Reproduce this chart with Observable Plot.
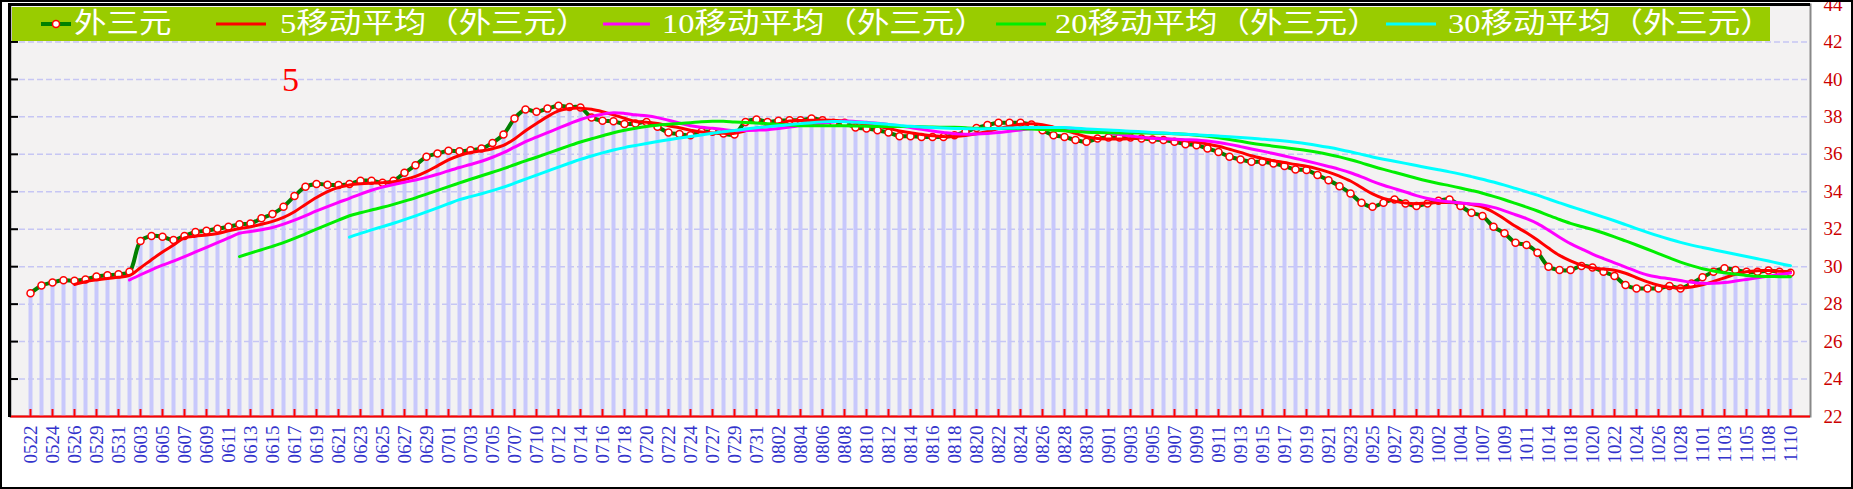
<!DOCTYPE html>
<html>
<head>
<meta charset="utf-8">
<script src="https://cdn.jsdelivr.net/npm/d3@7"></script>
<script src="https://cdn.jsdelivr.net/npm/@observablehq/plot@0.6"></script>
<style>
  body { margin: 0; background: #fff; }
  #wrap { position: relative; width: 1853px; height: 489px; overflow: hidden; background: #fff; }
  #chart { position: absolute; left: 0; top: 0; }
  #frame { position: absolute; left: 0; top: 0; width: 1853px; height: 489px; box-sizing: border-box; border: 2px solid #000; pointer-events: none; }
  .bline { position: absolute; background: #000; }
  #legend { position: absolute; left: 12px; top: 7px; width: 1758px; height: 34px; background: #99cc00; }
  .item { position: absolute; top: 0; height: 34px; line-height: 34px; color: #fff; white-space: nowrap;
          font-family: "Liberation Serif", "Noto Sans CJK SC", serif; font-size: 28px;
          transform: scaleX(1.16); transform-origin: 0 50%; }
  .sw { position: absolute; top: 0; }
</style>
</head>
<body>
<div id="wrap">
  <div id="chart"></div>
  <div class="bline" style="left:10px;top:3px;width:1800px;height:3px;"></div>
  <div class="bline" style="left:8px;top:3px;width:3px;height:414px;"></div>
  <div id="legend"></div>
  <div id="frame"></div>
</div>
<script>
// ---- data ----
const tickLabels = ["0522","0524","0526","0529","0531","0603","0605","0607","0609","0611","0613","0615","0617","0619","0621","0623","0625","0627","0629","0701","0703","0705","0707","0710","0712","0714","0716","0718","0720","0722","0724","0727","0729","0731","0802","0804","0806","0808","0810","0812","0814","0816","0818","0820","0822","0824","0826","0828","0830","0901","0903","0905","0907","0909","0911","0913","0915","0917","0919","0921","0923","0925","0927","0929","1002","1004","1007","1009","1011","1014","1018","1020","1022","1024","1026","1028","1101","1103","1105","1108","1110"];

const values = [
  28.58,28.99,29.16,29.27,29.25,29.32,29.47,29.54,29.59,29.73,
  31.37,31.64,31.60,31.42,31.64,31.85,31.92,32.03,32.13,32.26,
  32.31,32.58,32.81,33.20,33.77,34.27,34.42,34.37,34.36,34.41,
  34.59,34.59,34.48,34.59,35.01,35.42,35.87,36.04,36.19,36.17,
  36.22,36.31,36.61,37.06,37.91,38.39,38.27,38.44,38.59,38.53,
  38.50,37.96,37.79,37.76,37.62,37.64,37.73,37.47,37.16,37.08,
  37.02,37.20,37.20,37.11,37.06,37.73,37.86,37.73,37.79,37.82,
  37.82,37.91,37.82,37.68,37.68,37.43,37.38,37.29,37.16,36.97,
  36.97,36.93,36.93,36.93,37.02,37.20,37.41,37.56,37.68,37.68,
  37.68,37.59,37.29,37.02,36.93,36.76,36.67,36.84,36.90,36.90,
  36.90,36.84,36.79,36.76,36.67,36.54,36.49,36.31,36.13,35.87,
  35.72,35.60,35.60,35.51,35.37,35.19,35.16,34.89,34.62,34.30,
  33.91,33.41,33.20,33.41,33.59,33.38,33.24,33.38,33.52,33.59,
  33.24,32.88,32.70,32.13,31.78,31.28,31.16,30.75,30.00,29.82,
  29.82,30.04,29.96,29.73,29.50,29.02,28.84,28.84,28.84,28.97,
  28.84,29.10,29.43,29.73,29.91,29.82,29.73,29.73,29.79,29.73,
  29.68
];

const maPeriods = [5, 10, 20, 30];
const seriesNames = ["外三元", "5移动平均（外三元）", "10移动平均（外三元）", "20移动平均（外三元）", "30移动平均（外三元）"];
const seriesColors = ["#008000", "#ff0000", "#ff00ff", "#00ee00", "#00ffff"];
const yTicks = [22,24,26,28,30,32,34,36,38,40,42,44];
const gridValues = [24,26,28,30,32,34,36,38,40,42];
const note = ["5"];

// ---- build ----
const data = values.map((v, i) => ({i, v}));
const idx = d3.range(values.length);
const labeledIdx = idx.filter(i => i % 2 === 0);
const serif = '"Liberation Serif", "DejaVu Serif", serif';

const chart = Plot.plot({
  width: 1853,
  height: 489,
  marginLeft: 10,
  marginRight: 43,
  marginTop: 4,
  marginBottom: 73,
  style: {background: "transparent", fontFamily: serif},
  x: {type: "point", domain: idx, padding: 0.5, axis: null},
  y: {domain: [22, 44], axis: null},
  marks: [
    Plot.frame({fill: "#f3f2f2", stroke: "#888", strokeWidth: 2}),
    Plot.ruleX(data, {x: "i", y1: 22, y2: "v", stroke: "#c8c8fc", strokeWidth: 4}),
    Plot.ruleY(gridValues, {stroke: "#c6c6f4", strokeWidth: 1.5, strokeDasharray: "6,3"}),
    Plot.lineY(data, {x: "i", y: "v", stroke: seriesColors[0], strokeWidth: 4, curve: "catmull-rom"}),
    Plot.dot(data, {x: "i", y: "v", r: 3.5, fill: "white", stroke: "#ff0000", strokeWidth: 1.5}),
    ...maPeriods.map((k, j) => Plot.lineY(data, Plot.windowY({k, anchor: "end", strict: true},
      {x: "i", y: "v", stroke: seriesColors[j + 1], strokeWidth: 3, curve: "catmull-rom"}))),
    Plot.ruleY([22], {stroke: "#ff0000", strokeWidth: 2}),
    Plot.tickX(labeledIdx, {x: d => d, stroke: "#ff0000", strokeWidth: 2, insetTop: 405}),
    Plot.tickY(gridValues, {y: d => d, stroke: "#000", strokeWidth: 2, insetRight: 1792}),
    Plot.axisX(labeledIdx, {anchor: "bottom", label: null, tickSize: 0, tickPadding: 9, tickRotate: -90,
      tickFormat: i => tickLabels[i / 2], color: "#3333cc", fill: "#3333cc", fontSize: 19, fontFamily: serif}),
    Plot.axisY(yTicks, {anchor: "right", label: null, tickSize: 0, tickPadding: 13, color: "#cc0000", fill: "#cc0000",
      fontSize: 19, fontFamily: serif}),
    Plot.text(note, {frameAnchor: "top-left", dx: 280, dy: 76, textAnchor: "middle", lineAnchor: "middle",
      fill: "#ff0000", fontSize: 34, fontFamily: serif})
  ]
});
document.getElementById("chart").appendChild(chart);

// ---- legend ----
const legend = document.getElementById("legend");
const swPos = [[29, 30], [204, 50], [591, 47], [984, 50], [1374, 50]];
const txtPos = [62, 268, 650, 1043, 1436];
seriesNames.forEach((name, j) => {
  const [sx, sw] = swPos[j];
  const svgNS = "http://www.w3.org/2000/svg";
  const s = document.createElementNS(svgNS, "svg");
  s.setAttribute("class", "sw");
  s.setAttribute("width", sw);
  s.setAttribute("height", 34);
  s.style.left = sx + "px";
  const ln = document.createElementNS(svgNS, "line");
  ln.setAttribute("x1", 0); ln.setAttribute("x2", sw);
  ln.setAttribute("y1", 17); ln.setAttribute("y2", 17);
  ln.setAttribute("stroke", seriesColors[j]);
  ln.setAttribute("stroke-width", j === 0 ? 4 : 3);
  s.appendChild(ln);
  if (j === 0) {
    const c = document.createElementNS(svgNS, "circle");
    c.setAttribute("cx", sw / 2); c.setAttribute("cy", 17); c.setAttribute("r", 3.5);
    c.setAttribute("fill", "white"); c.setAttribute("stroke", "#ff0000"); c.setAttribute("stroke-width", 1.5);
    s.appendChild(c);
  }
  legend.appendChild(s);
  const t = document.createElement("div");
  t.className = "item";
  t.style.left = txtPos[j] + "px";
  t.textContent = name;
  legend.appendChild(t);
});
</script>
</body>
</html>
